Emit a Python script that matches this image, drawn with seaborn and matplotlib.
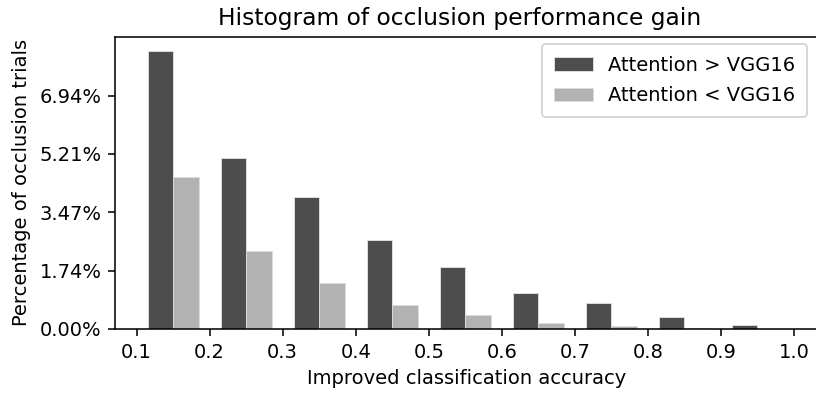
import numpy as np
import pandas as pd
import matplotlib
matplotlib.use("Agg")
import matplotlib.pyplot as plt
import seaborn as sns

# Histogram bins of accuracy gain and the share of occlusion trials in each
bin_edges = [0.1, 0.2, 0.3, 0.4, 0.5, 0.6, 0.7, 0.8, 0.9, 1.0]
series_names = ["Attention > VGG16", "Attention < VGG16"]
better_pct = [8.28, 5.10, 3.93, 2.65, 1.84, 1.08, 0.77, 0.37, 0.12]
worse_pct = [4.52, 2.32, 1.37, 0.70, 0.42, 0.19, 0.10, 0.02, 0.005]
ytick_labels = ["0.00%", "1.74%", "3.47%", "5.21%", "6.94%"]
xtick_values = [0.1, 0.2, 0.3, 0.4, 0.5, 0.6, 0.7, 0.8, 0.9, 1.0]

edges = np.array(bin_edges)
centers = (edges[:-1] + edges[1:]) / 2
df = pd.DataFrame({
    "gain": np.concatenate([centers, centers]),
    "pct": np.concatenate([better_pct, worse_pct]),
    "group": [series_names[0]] * len(centers) + [series_names[1]] * len(centers),
})

DPI = 140
fig = plt.figure(figsize=(816 / DPI, 393 / DPI), dpi=DPI)
ax = fig.add_axes([115 / 816, 64 / 393, 718 / 816, 292.3 / 393])

sns.histplot(
    data=df, x="gain", weights="pct", hue="group", hue_order=series_names,
    bins=list(bin_edges), multiple="dodge", shrink=0.7,
    palette=["#4d4d4d", "#b2b2b2"], alpha=1.0,
    edgecolor="#dcdcdc", linewidth=0.5, ax=ax,
)

ax.set_xlim(0.0704, 1.0535)
ax.set_ylim(0, 8.70)
ax.set_xticks(xtick_values)
ax.set_xticklabels([f"{v:.1f}" for v in xtick_values])
yticks = [float(s.rstrip("%")) for s in ytick_labels]
ax.set_yticks(yticks)
ax.set_yticklabels(ytick_labels)
ax.set_xlabel("Improved classification accuracy", x=0.49)
ax.set_ylabel("Percentage of occlusion trials")
ax.set_title("Histogram of occlusion performance gain", x=0.4805)

sns.move_legend(
    ax, "upper right", bbox_to_anchor=(807 / 816, 1 - 44 / 393),
    bbox_transform=fig.transFigure, title=None,
    frameon=True, borderaxespad=0, borderpad=0.6, labelspacing=0.6,
)

fig.savefig("out.png", dpi=DPI)
